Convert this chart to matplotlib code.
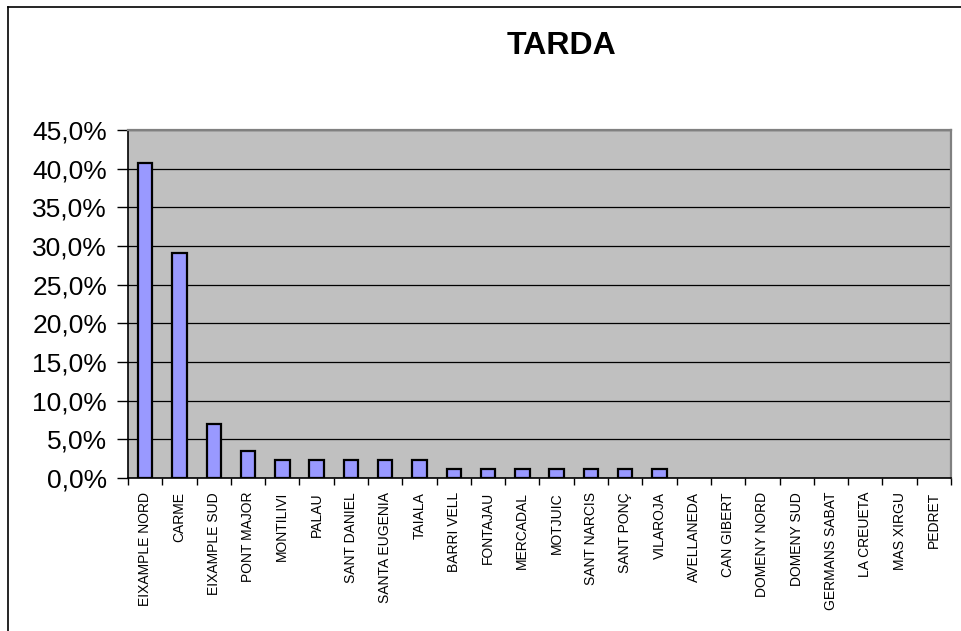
import matplotlib
matplotlib.use("Agg")
import matplotlib.pyplot as plt
from matplotlib.lines import Line2D
from matplotlib.ticker import FuncFormatter, FixedLocator
import numpy as np

# neighbourhoods (barris) and their share of answers in the afternoon
barris = ["EIXAMPLE NORD", "CARME", "EIXAMPLE SUD", "PONT MAJOR", "MONTILIVI",
          "PALAU", "SANT DANIEL", "SANTA EUGENIA", "TAIALA", "BARRI VELL",
          "FONTAJAU", "MERCADAL", "MOTJUIC", "SANT NARCIS", "SANT PONÇ",
          "VILAROJA", "AVELLANEDA", "CAN GIBERT", "DOMENY NORD", "DOMENY SUD",
          "GERMANS SABAT", "LA CREUETA", "MAS XIRGU", "PEDRET"]
percent = [40.7, 29.1, 7.0, 3.5, 2.3, 2.3, 2.3, 2.3, 2.3, 1.2, 1.2, 1.2,
           1.2, 1.2, 1.2, 1.2, 0, 0, 0, 0, 0, 0, 0, 0]
y_ticks = [0, 5, 10, 15, 20, 25, 30, 35, 40, 45]

plt.rcParams["font.family"] = ["Liberation Sans", "DejaVu Sans"]

fig = plt.figure(figsize=(9.62, 6.31), dpi=100)
ax = fig.add_axes([128 / 962, 1 - 478 / 631, 823 / 962, 348 / 631])

# outer chart frame (only left and top are visible in the crop)
fig.lines.append(Line2D([8 / 962, 8 / 962], [0, 1 - 7 / 631],
                        transform=fig.transFigure, color="black", lw=1.2))
fig.lines.append(Line2D([8 / 962, 1], [1 - 7 / 631, 1 - 7 / 631],
                        transform=fig.transFigure, color="black", lw=1.2))

x = np.arange(len(barris))
ax.set_facecolor("#C0C0C0")
# empty bars get no outline, like in excel
edge_w = [1.6 if v > 0 else 0 for v in percent]
ax.bar(x, percent, width=0.42, color="#9999FF", edgecolor="black",
       linewidth=edge_w, zorder=3)

ax.set_xlim(-0.5, len(barris) - 0.5)
ax.set_ylim(0, 45)
ax.yaxis.set_major_locator(FixedLocator(y_ticks))
ax.yaxis.set_major_formatter(FuncFormatter(lambda v, p: ("%.1f%%" % v).replace(".", ",")))
ax.grid(axis="y", color="black", linewidth=0.9, zorder=1)

ax.set_xticks(x)
ax.set_xticklabels(barris, rotation=90, fontsize=10)
ax.set_xticks(np.arange(-0.5, len(barris), 1), minor=True)
ax.tick_params(axis="x", which="major", length=0, pad=10)
ax.tick_params(axis="x", which="minor", length=5, width=1, direction="out")
ax.tick_params(axis="y", labelsize=19, length=8, width=1, pad=7)

for side in ["left", "bottom"]:
    ax.spines[side].set_color("black")
    ax.spines[side].set_linewidth(1.2)
for side in ["top", "right"]:
    ax.spines[side].set_color("#808080")
    ax.spines[side].set_linewidth(1.6)

fig.text(562 / 962, 1 - 46 / 631, "TARDA", ha="center", va="center",
         fontsize=23, fontweight="bold")

fig.savefig("out.png", dpi=100)
